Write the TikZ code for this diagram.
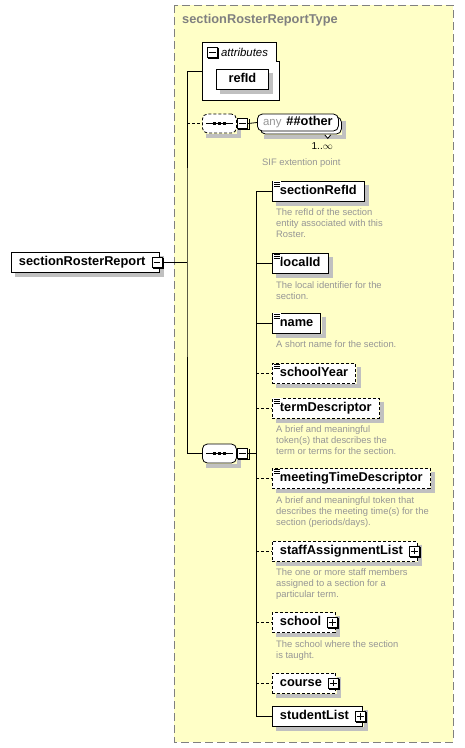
\documentclass[tikz,border=0pt]{standalone}
\usepackage{fontspec}
\setmainfont{Liberation Sans}
\usetikzlibrary{positioning}

\definecolor{typefill}{RGB}{255,255,199}
\definecolor{typeedge}{RGB}{128,128,128}
\definecolor{notegray}{RGB}{150,150,150}
\definecolor{castgray}{RGB}{192,192,192}

\newcommand{\elemfont}{\fontsize{12.8}{15}\selectfont\bfseries}
\newcommand{\notefont}{\fontsize{9.4}{11}\selectfont}
\newcommand{\castshadow}[1]{%
  \draw[castgray, line width=4pt] ([xshift=2.4pt, yshift=-4pt]#1.north east) -- ([xshift=2.4pt, yshift=-2.4pt]#1.south east) -- ([xshift=4pt, yshift=-2.4pt]#1.south west);}
\newcommand{\togglerim}[1]{%
  \draw[line width=1pt] ([xshift=1pt, yshift=-1pt]#1.north east) -- ([xshift=1pt, yshift=-1pt]#1.south east) -- ([xshift=1pt, yshift=-1pt]#1.south west);}
\newcommand{\minusmark}[1]{\togglerim{#1}\draw[line width=0.8pt] ([xshift=2pt]#1.west) -- ([xshift=-2pt]#1.east);}
\newcommand{\plusmark}[1]{\minusmark{#1}\draw[line width=0.8pt] ([yshift=-2pt]#1.north) -- ([yshift=2pt]#1.south);}
\newcommand{\leafmark}[1]{%
  \fill[white] ([xshift=1pt, yshift=-0.6pt]#1.north west) rectangle ([xshift=9pt, yshift=-7pt]#1.north west);
  \draw[line width=0.7pt] ([xshift=2pt, yshift=-1.6pt]#1.north west) -- ([xshift=8pt, yshift=-1.6pt]#1.north west);
  \draw[line width=0.7pt] ([xshift=2pt, yshift=-3.6pt]#1.north west) -- ([xshift=8pt, yshift=-3.6pt]#1.north west);
  \draw[line width=0.7pt] ([xshift=2pt, yshift=-5.6pt]#1.north west) -- ([xshift=8pt, yshift=-5.6pt]#1.north west);}
\newcommand{\seqmark}[1]{%
  \draw[line width=0.8pt] ([xshift=4pt]#1.west) -- ([xshift=-4pt]#1.east);
  \fill ([xshift=-6.3pt, yshift=-1.3pt]#1.center) rectangle ([xshift=-3.7pt, yshift=1.3pt]#1.center);
  \fill ([xshift=-1.3pt, yshift=-1.3pt]#1.center) rectangle ([xshift=1.3pt, yshift=1.3pt]#1.center);
  \fill ([xshift=3.7pt, yshift=-1.3pt]#1.center) rectangle ([xshift=6.3pt, yshift=1.3pt]#1.center);}

\begin{document}
\begin{tikzpicture}[x=1pt,y=-1pt,
  elem/.style={draw, fill=white, line width=0.8pt, anchor=west, font=\elemfont,
    minimum height=20pt, inner xsep=7.5pt, inner ysep=3.9pt, text height=9.5pt, text depth=2.7pt},
  optional/.style={dash pattern=on 3pt off 2pt},
  wire/.style={line width=0.8pt},
  togglebox/.style={draw, fill=white, line width=0.8pt, minimum size=10pt, inner sep=0pt},
  seqbox/.style={rectangle, rounded corners=5pt, draw, fill=white,
    line width=0.8pt, anchor=west, minimum width=34pt, minimum height=19pt, inner sep=0pt},
  anybox/.style={rectangle, rounded corners=5pt, draw, fill=white, line width=0.8pt, anchor=west,
    minimum width=81pt, minimum height=17pt, inner xsep=5pt, inner ysep=0pt, font=\elemfont},
  note/.style={align=left, inner sep=0pt, text=notegray, font=\notefont}]
\useasboundingbox (0,0) rectangle (464,748);

% complex type frame
\draw[typeedge, fill=typefill, line width=1pt, dash pattern=on 8pt off 4pt] (174,5) rectangle (453,742);
\node[anchor=west, inner sep=0pt, text=typeedge, font=\elemfont] (typetitle) at (182,20) {sectionRosterReportType};

% root element
\node[elem] (root) at (11,262.5) {sectionRosterReport\hspace*{6.5pt}};
\castshadow{root}
\node[togglebox] (rootminus) at ([xshift=-3pt]root.east) {};
\minusmark{rootminus}

% attributes
\node[anchor=north west, minimum width=77pt, minimum height=58pt, inner sep=0pt] (attrs) at (202,42) {};
\draw[line width=0.8pt, fill=white] (attrs.north west) -- ([xshift=-3pt]attrs.north east)
  -- ([xshift=-3pt, yshift=-19pt]attrs.north east) -- ([yshift=-19pt]attrs.north east)
  -- (attrs.south east) -- (attrs.south west) -- cycle;
\node[togglebox] (attrsminus) at (212.5,52) {};
\minusmark{attrsminus}
\node[right=3pt of attrsminus, inner sep=0pt, font=\itshape\fontsize{11.4}{13}\selectfont] (attrslabel) {attributes};
\node[elem, minimum width=52pt] (refId) at (216,79) {refId};
\castshadow{refId}

% sequences
\node[seqbox, optional] (seq1) at (202,123.5) {};
\castshadow{seq1}
\seqmark{seq1}
\node[togglebox] (seq1minus) at ([xshift=6pt]seq1.east) {};
\minusmark{seq1minus}
\node[seqbox] (seq2) at (202,453.5) {};
\castshadow{seq2}
\seqmark{seq2}
\node[togglebox] (seq2minus) at ([xshift=6pt]seq2.east) {};
\minusmark{seq2minus}

% any
\node[anybox] (anyback) at (260,125.5) {};
\castshadow{anyback}
\draw[line width=0.8pt, fill=white] ([xshift=-17pt, yshift=-0.4pt]anyback.south east) -- ([xshift=-14pt, yshift=-4pt]anyback.south east) -- ([xshift=-11pt, yshift=-0.4pt]anyback.south east);
\node[anybox] (anyother) at (257,122.5) {{\color{notegray}\mdseries\fontsize{11.4}{13}\selectfont any}\hspace{5pt}\#\#other};
\node[anchor=east, inner sep=0pt, font=\fontsize{10}{12}\selectfont] (anyocc) at (333,146) {1..$\infty$};
\node[note, anchor=west] (anynote) at (262,163) {SIF extention point};

% children
\node[elem] (sectionRefId) at (272,191) {sectionRefId};
\node[elem] (localId) at (272,263.5) {localId};
\node[elem] (name) at (272,323) {name};
\node[elem, optional] (schoolYear) at (272,373.5) {schoolYear};
\node[elem, optional] (termDescriptor) at (272,408) {termDescriptor};
\node[elem, optional] (meetingTimeDescriptor) at (272,478.5) {meetingTimeDescriptor};
\node[elem, optional] (staffAssignmentList) at (272,551) {staffAssignmentList\hspace*{6.5pt}};
\node[elem, optional] (school) at (272,622.5) {school\hspace*{6.5pt}};
\node[elem, optional] (course) at (272,683) {course\hspace*{6.5pt}};
\node[elem] (studentList) at (272,716.5) {studentList\hspace*{6.5pt}};

\castshadow{sectionRefId}
\castshadow{localId}
\castshadow{name}
\castshadow{schoolYear}
\castshadow{termDescriptor}
\castshadow{meetingTimeDescriptor}
\castshadow{staffAssignmentList}
\castshadow{school}
\castshadow{course}
\castshadow{studentList}

\leafmark{sectionRefId}
\leafmark{localId}
\leafmark{name}
\leafmark{schoolYear}
\leafmark{termDescriptor}
\leafmark{meetingTimeDescriptor}

\node[togglebox] (staffAssignmentListplus) at ([xshift=-3pt]staffAssignmentList.east) {};
\plusmark{staffAssignmentListplus}
\node[togglebox] (schoolplus) at ([xshift=-3pt]school.east) {};
\plusmark{schoolplus}
\node[togglebox] (courseplus) at ([xshift=-3pt]course.east) {};
\plusmark{courseplus}
\node[togglebox] (studentListplus) at ([xshift=-3pt]studentList.east) {};
\plusmark{studentListplus}

% notes
\node[note, below right=7.5pt and 4pt of sectionRefId.south west] (sectionRefIdnote) {The refId of the section\\entity associated with this\\Roster.};
\node[note, below right=7.5pt and 4pt of localId.south west] (localIdnote) {The local identifier for the\\section.};
\node[note, below right=7.5pt and 4pt of name.south west] (namenote) {A short name for the section.};
\node[note, below right=7.5pt and 4pt of termDescriptor.south west] (termDescriptornote) {A brief and meaningful\\token(s) that describes the\\term or terms for the section.};
\node[note, below right=7.5pt and 4pt of meetingTimeDescriptor.south west] (meetingTimeDescriptornote) {A brief and meaningful token that\\describes the meeting time(s) for the\\section (periods/days).};
\node[note, below right=7.5pt and 4pt of staffAssignmentList.south west] (staffAssignmentListnote) {The one or more staff members\\assigned to a section for a\\particular term.};
\node[note, below right=7.5pt and 4pt of school.south west] (schoolnote) {The school where the section\\is taught.};

% connectors
\coordinate (trunk) at (187,262.5);
\coordinate (branch) at (256,453.5);
\draw[wire] (rootminus.east) -- (trunk);
\draw[wire] (attrs.west) -| (trunk) |- (seq2.west);
\draw[wire, optional] (trunk |- seq1.west) -- (seq1.west);
\draw[wire] (seq1minus.east) -- (anyother.west);
\draw[wire] (seq2minus.east) -- (branch);
\draw[wire] (branch |- sectionRefId.west) -- (branch |- studentList.west);
\draw[wire] (branch |- sectionRefId.west) -- (sectionRefId.west);
\draw[wire] (branch |- localId.west) -- (localId.west);
\draw[wire] (branch |- name.west) -- (name.west);
\draw[wire, optional] (branch |- schoolYear.west) -- (schoolYear.west);
\draw[wire, optional] (branch |- termDescriptor.west) -- (termDescriptor.west);
\draw[wire, optional] (branch |- meetingTimeDescriptor.west) -- (meetingTimeDescriptor.west);
\draw[wire, optional] (branch |- staffAssignmentList.west) -- (staffAssignmentList.west);
\draw[wire, optional] (branch |- school.west) -- (school.west);
\draw[wire, optional] (branch |- course.west) -- (course.west);
\draw[wire] (branch |- studentList.west) -- (studentList.west);
\end{tikzpicture}
\end{document}
